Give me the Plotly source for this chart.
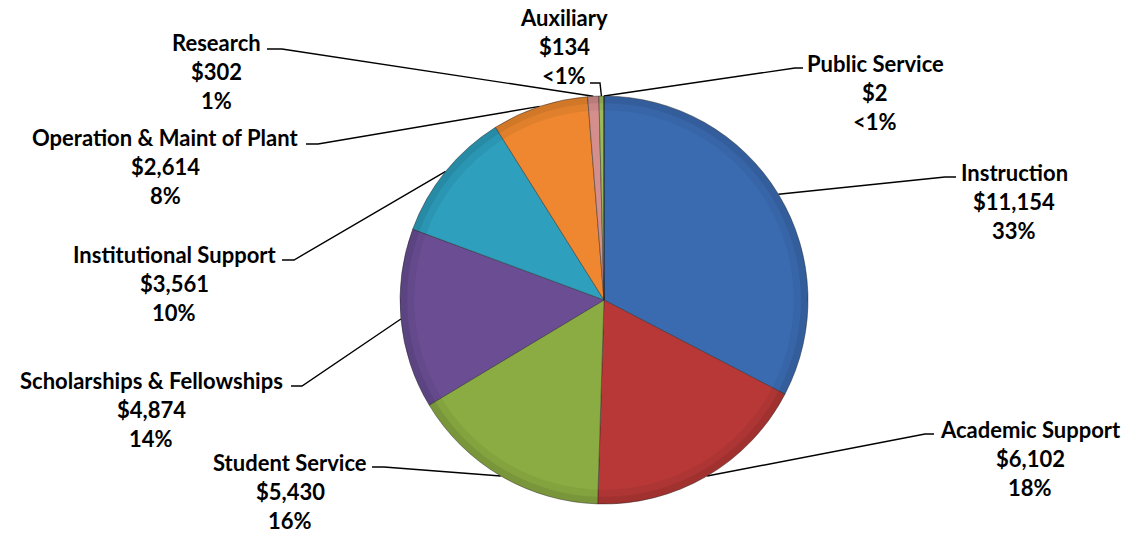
import math
import plotly.graph_objects as go

# Expenditures by function (thousands of dollars)
categories = [
    "Instruction", "Academic Support", "Student Service",
    "Scholarships & Fellowships", "Institutional Support",
    "Operation & Maint of Plant", "Research", "Auxiliary", "Public Service",
]
values = [11154, 6102, 5430, 4874, 3561, 2614, 302, 134, 2]
colors = [
    "#3A6BB0", "#B73836", "#8BAC43", "#6A4D93", "#2E9FBD",
    "#EE872F", "#D48E8C", "#9BBB59", "#2C4D75",
]

W, H = 1129, 535
CX, CY, R = 604, 300, 204  # pie centre and radius in pixels

# Label placement (pixels): text centre x, first-line centre y,
# leader stub start x, stub end x, stub y
label_layout = {
    "Instruction":                (1014, 172, 956, 945, 177),
    "Academic Support":           (1030, 429, 934, 925, 434),
    "Student Service":            (290, 462, 372, 384, 467),
    "Scholarships & Fellowships": (151, 380, 291, 302, 386),
    "Institutional Support":      (174, 254, 282, 294, 260),
    "Operation & Maint of Plant": (165, 137, 306, 318, 144),
    "Research":                   (216, 42, 267, 282, 49),
    "Auxiliary":                  (564, 17, 590, 600, 83),
    "Public Service":             (875, 63, 803, 795, 68),
}
LINE_GAP = 29
FONT = dict(family="Lato, 'Open Sans', sans-serif", size=22, color="#000000", weight="bold")

total = sum(values)


def pct_text(v):
    p = v / total * 100
    return "<1%" if p < 0.5 else f"{round(p):.0f}%"


fig = go.Figure()

# Leader lines: stub beside the label, then a straight run to the slice mid-angle on the rim
cum = 0.0
for name, v in zip(categories, values):
    mid = (cum + v / 2) / total * 2 * math.pi
    cum += v
    rx = CX + R * math.sin(mid)
    ry = CY - R * math.cos(mid)
    _, _, sx0, sx1, sy = label_layout[name]
    fig.add_trace(go.Scatter(
        x=[sx0, sx1, rx], y=[sy, sy, ry], mode="lines",
        line=dict(color="#000000", width=1.4),
        hoverinfo="skip", showlegend=False, xaxis="x", yaxis="y",
    ))

pie_domain = dict(x=[(CX - R) / W, (CX + R) / W], y=[1 - (CY + R) / H, 1 - (CY - R) / H])

fig.add_trace(go.Pie(
    labels=categories, values=values, sort=False, direction="clockwise",
    rotation=0, textinfo="none", hoverinfo="label+value+percent",
    marker=dict(colors=colors, line=dict(color="rgba(40,40,40,0.45)", width=1)),
    domain=pie_domain, showlegend=False,
))

# Soft darker rim layers to give the slices a bevelled look
for hole, alpha in [(0.93, 0.05), (0.965, 0.07)]:
    fig.add_trace(go.Pie(
        labels=categories, values=values, sort=False, direction="clockwise",
        rotation=0, textinfo="none", hoverinfo="skip", hole=hole,
        marker=dict(colors=[f"rgba(0,0,0,{alpha})"] * len(values), line=dict(width=0)),
        domain=pie_domain, showlegend=False,
    ))

annotations = []
for name, v in zip(categories, values):
    tx, ty, *_ = label_layout[name]
    lines = [name, f"${v:,}", pct_text(v)]
    for i, t in enumerate(lines):
        annotations.append(dict(
            x=tx, y=ty + i * LINE_GAP, xref="x", yref="y", text=t,
            showarrow=False, xanchor="center", yanchor="middle", font=FONT,
        ))

fig.update_layout(
    width=W, height=H, margin=dict(l=0, r=0, t=0, b=0),
    paper_bgcolor="white", plot_bgcolor="white",
    xaxis=dict(range=[0, W], visible=False, fixedrange=True, domain=[0, 1]),
    yaxis=dict(range=[H, 0], visible=False, fixedrange=True, domain=[0, 1]),
    annotations=annotations,
)

fig.write_html("out.html")
